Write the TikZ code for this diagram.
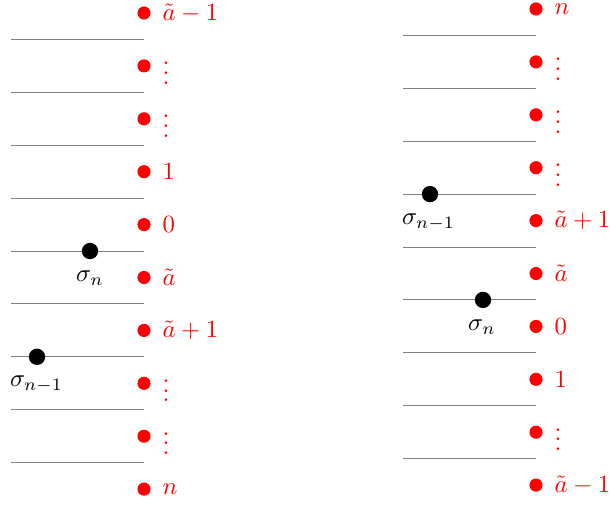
\documentclass[tikz,border=0pt]{standalone}
\begin{document}
\begin{tikzpicture}[x=0.4042pt,y=-0.4042pt,
  rdot/.style={circle,fill=red,inner sep=0pt,minimum size=5.3pt},
  bdot/.style={circle,fill=black,inner sep=0pt,minimum size=6.6pt},
  rlab/.style={text=red,anchor=west,inner sep=0pt},
  blab/.style={text=black,inner sep=0pt},
  sepline/.style={draw=gray,line width=0.4pt}]
\useasboundingbox (0,0) rectangle (610,505);
% left panel
\foreach \lab [count=\i from 0] in {\tilde a-1,\vdots,\vdots,1,0,\tilde a,\tilde a+1,\vdots,\vdots,n} {
  \node[rdot] (L\i) at (144,{13+52.9*\i}) {};
  \node[rlab] (LT\i) at (162,{13+52.9*\i}) {$\lab$};
}
\foreach \i in {0,...,8} {
  \coordinate (La\i) at (11,{39.4+52.9*\i});
  \coordinate (Lb\i) at (144,{39.4+52.9*\i});
  \draw[sepline] (La\i) -- (Lb\i);
}
\node[bdot] (Lsn) at (90,{39.4+52.9*4}) {};
\node[blab] (Lsnl) at (90,278) {$\sigma_n$};
\node[bdot] (Lsm) at (37,{39.4+52.9*6}) {};
\node[blab] (Lsml) at (36.5,384) {$\sigma_{n-1}$};
% right panel
\foreach \lab [count=\i from 0] in {n,\vdots,\vdots,\vdots,\tilde a+1,\tilde a,0,1,\vdots,\tilde a-1} {
  \node[rdot] (R\i) at (536,{9+52.9*\i}) {};
  \node[rlab] (RT\i) at (554,{9+52.9*\i}) {$\lab$};
}
\foreach \i in {0,...,8} {
  \coordinate (Ra\i) at (403,{35.4+52.9*\i});
  \coordinate (Rb\i) at (536,{35.4+52.9*\i});
  \draw[sepline] (Ra\i) -- (Rb\i);
}
\node[bdot] (Rsm) at (430,{35.4+52.9*3}) {};
\node[blab] (Rsml) at (428.5,222) {$\sigma_{n-1}$};
\node[bdot] (Rsn) at (483,{35.4+52.9*5}) {};
\node[blab] (Rsnl) at (482,327) {$\sigma_n$};
\end{tikzpicture}
\end{document}
